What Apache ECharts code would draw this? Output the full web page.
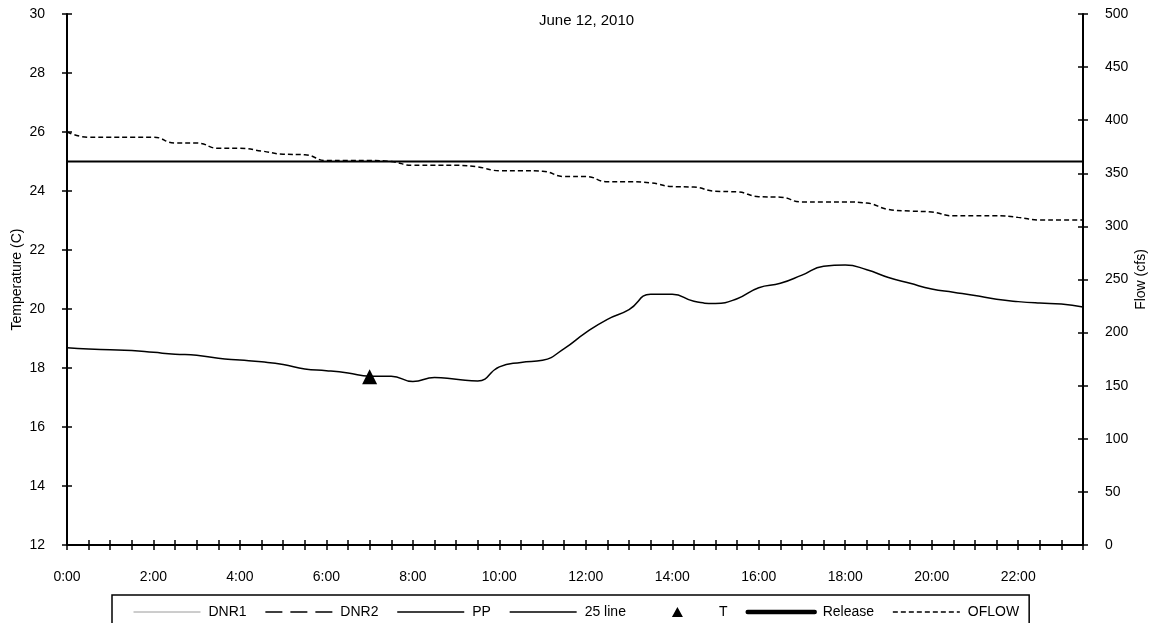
<!DOCTYPE html>
<html>
<head>
<meta charset="utf-8">
<title>June 12, 2010</title>
<script src="https://cdn.jsdelivr.net/npm/echarts@6/dist/echarts.min.js"></script>
<style>
  html, body { margin: 0; padding: 0; background: #fff; }
  #chart { width: 1155px; height: 623px; }
</style>
</head>
<body>
<div id="chart"></div>
<script>
// Half-hourly time stamps for the day
const times = ['0:00','0:30','1:00','1:30','2:00','2:30','3:00','3:30','4:00','4:30','5:00','5:30',
  '6:00','6:30','7:00','7:30','8:00','8:30','9:00','9:30','10:00','10:30','11:00','11:30',
  '12:00','12:30','13:00','13:30','14:00','14:30','15:00','15:30','16:00','16:30','17:00','17:30',
  '18:00','18:30','19:00','19:30','20:00','20:30','21:00','21:30','22:00','22:30','23:00','23:30'];

// PP water temperature (C)
const ppTemp = [18.69,18.64,18.62,18.59,18.53,18.47,18.43,18.33,18.27,18.21,18.12,17.97,
  17.91,17.83,17.72,17.72,17.54,17.68,17.62,17.56,18.04,18.19,18.26,18.66,
  19.20,19.65,19.98,20.50,20.50,20.26,20.19,20.35,20.72,20.87,21.15,21.45,
  21.49,21.33,21.07,20.87,20.68,20.57,20.46,20.33,20.25,20.20,20.17,20.07];

// OFLOW discharge (cfs)
const oflow = [389,384,384,384,384,378.5,378.5,373.5,373.5,371,368,367.5,
  362,362,362,361,357.5,357.5,357.5,356,352.5,352.5,352,347,
  347,342,342,341,337.5,337,333,332.5,328,327.5,323,323,
  323,322,316,314.5,313.5,310,310,310,308.5,306,306,306];

// 25 C reference line end points
const line25 = [['0:00', 25], ['23:30', 25]];

// Single temperature reading T
const tPoint = [['7:00', 17.7]];

// Axis settings
const tempMin = 12, tempMax = 30, tempStep = 2;
const flowMin = 0, flowMax = 500, flowStep = 50;

const FONT = "'Liberation Sans', Arial, sans-serif";
const chart = echarts.init(document.getElementById('chart'), null, { renderer: 'canvas' });

const axisLine = { show: true, lineStyle: { color: '#000', width: 2 } };

// Each axis is paired with a twin that draws the inner half of the ticks,
// so tick marks cross the axis line.
function xAxisBase(inside) {
  return {
    type: 'category',
    data: times,
    boundaryGap: false,
    position: 'bottom',
    axisLine: inside ? { show: false } : axisLine,
    axisTick: { show: true, inside: inside, length: 5, interval: 0, lineStyle: { color: '#000', width: 1.5 } },
    axisLabel: inside ? { show: false } : {
      show: true, interval: 3, margin: 25, color: '#000', fontSize: 14, fontFamily: FONT
    },
    splitLine: { show: false }
  };
}

function yAxisBase(side, min, max, step, inside, name, gap) {
  return {
    type: 'value',
    position: side,
    min: min, max: max, interval: step,
    name: inside ? '' : name,
    nameLocation: 'middle',
    nameRotate: 90,
    nameGap: gap,
    nameMoveOverlap: false,
    nameTextStyle: { color: '#000', fontSize: 14, fontFamily: FONT },
    axisLine: inside ? { show: false } : axisLine,
    axisTick: { show: true, inside: inside, length: 5, lineStyle: { color: '#000', width: 1.5 } },
    axisLabel: inside ? { show: false } : { show: true, margin: 22, color: '#000', fontSize: 14, fontFamily: FONT },
    splitLine: { show: false }
  };
}

// Legend key for T: a small triangle centred in a full-width key slot
const triangleKey = 'path://M0,12L0.01,12L0,12Z M67,12L66.99,12L67,12Z M28,12L33.5,2L39,12Z';

chart.setOption({
  animation: false,
  backgroundColor: '#fff',
  textStyle: { fontFamily: FONT },
  title: {
    text: 'June 12, 2010',
    left: 534,
    top: 8,
    textStyle: { fontSize: 15, fontWeight: 'normal', color: '#000', fontFamily: FONT }
  },
  grid: { left: 67, right: 72, top: 14, bottom: 78, containLabel: false, outerBoundsMode: 'none' },
  legend: {
    left: 112,
    top: 595,
    padding: [10, 10, 10, 21],
    itemWidth: 67,
    itemHeight: 12,
    itemGap: 18,
    borderColor: '#000',
    borderWidth: 1.5,
    itemStyle: { opacity: 0 },
    textStyle: { fontSize: 14, color: '#000', fontFamily: FONT, padding: [0, 0, 0, 3] },
    data: [
      { name: 'DNR1', lineStyle: { width: 1 } },
      { name: 'DNR2', lineStyle: { width: 1.5 } },
      { name: 'PP', lineStyle: { width: 1.5 } },
      { name: '25 line', lineStyle: { width: 1.5 } },
      { name: 'T', icon: triangleKey, itemStyle: { opacity: 1, color: '#000' } },
      { name: 'Release', lineStyle: { width: 4.5, cap: 'round' } },
      { name: 'OFLOW', lineStyle: { width: 1.5 } }
    ]
  },
  xAxis: [xAxisBase(false), xAxisBase(true)],
  yAxis: [
    yAxisBase('left', tempMin, tempMax, tempStep, false, 'Temperature (C)', 43),
    yAxisBase('right', flowMin, flowMax, flowStep, false, 'Flow (cfs)', 51),
    yAxisBase('left', tempMin, tempMax, tempStep, true, '', 0),
    yAxisBase('right', flowMin, flowMax, flowStep, true, '', 0)
  ],
  series: [
    {
      name: 'DNR1', type: 'line', yAxisIndex: 0, data: [], symbol: 'none',
      lineStyle: { color: '#9a9a9a', width: 1 }, itemStyle: { color: '#9a9a9a' }
    },
    {
      name: 'DNR2', type: 'line', yAxisIndex: 0, data: [], symbol: 'none',
      lineStyle: { color: '#000', width: 1.5, type: [17, 8] }, itemStyle: { color: '#000' }
    },
    {
      name: 'PP', type: 'line', yAxisIndex: 0, data: ppTemp, symbol: 'none', smooth: 0.5,
      lineStyle: { color: '#000', width: 1.5 }, itemStyle: { color: '#000' }, z: 3
    },
    {
      name: '25 line', type: 'line', yAxisIndex: 0, data: line25, symbol: 'none',
      lineStyle: { color: '#000', width: 2 }, itemStyle: { color: '#000' }
    },
    {
      name: 'T', type: 'scatter', yAxisIndex: 0, data: tPoint, symbol: 'triangle', symbolSize: 15,
      itemStyle: { color: '#000', opacity: 1 }, z: 4
    },
    {
      name: 'Release', type: 'line', yAxisIndex: 1, data: [], symbol: 'none',
      lineStyle: { color: '#000', width: 4.5, cap: 'round' }, itemStyle: { color: '#000' }
    },
    {
      name: 'OFLOW', type: 'line', yAxisIndex: 1, data: oflow, symbol: 'none', smooth: 0.5,
      lineStyle: { color: '#000', width: 1.5, type: [5, 3] }, itemStyle: { color: '#000' }
    }
  ]
});
</script>
</body>
</html>
